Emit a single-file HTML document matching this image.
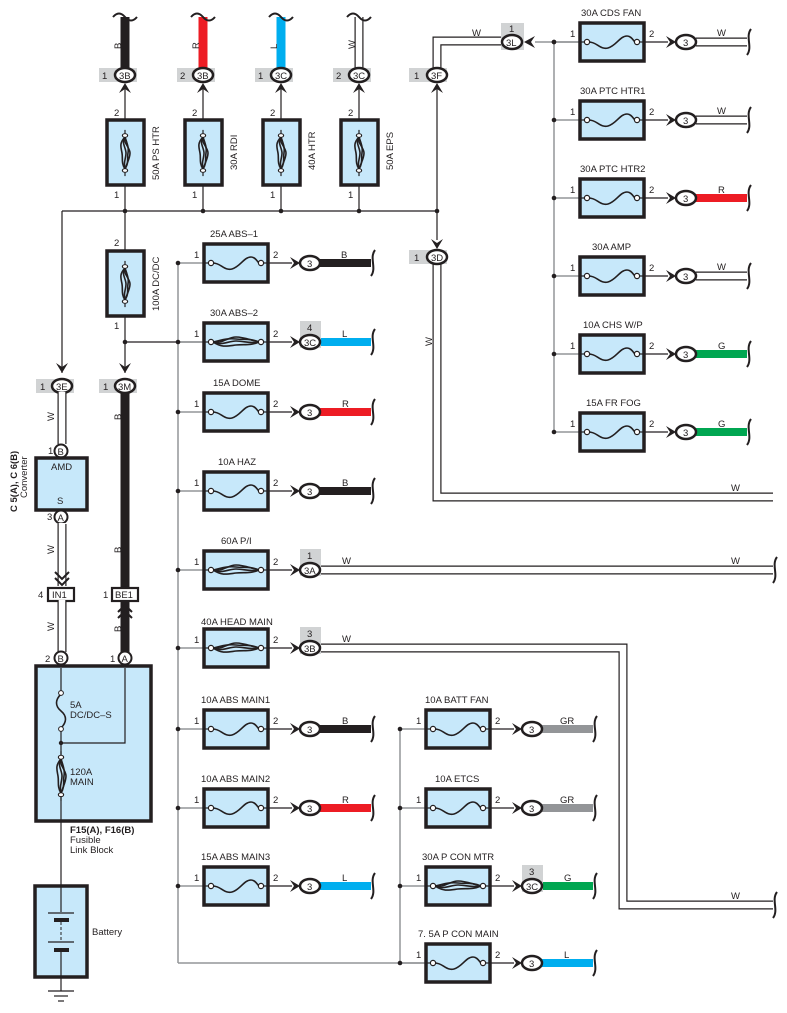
<!DOCTYPE html>
<html><head><meta charset="utf-8"><style>
html,body{margin:0;padding:0;background:#fff}
svg{display:block}
text{font-family:"Liberation Sans",sans-serif;font-size:9.5px;fill:#231f20}
.bx{fill:#c7e8fa;stroke:#231f20;stroke-width:3.5}
.ln{stroke:#231f20;stroke-width:1.2;fill:none}
.gl{stroke:#939598;stroke-width:1.5;fill:none}
.fz{stroke:#231f20;stroke-width:1.6;fill:none}
.el{fill:#fff;stroke:#231f20;stroke-width:2.5}
.gy{fill:#d1d3d4}
.wo{stroke:#231f20;stroke-width:9;fill:none}
.wi{stroke:#fff;stroke-width:6.6;fill:none}
.br{stroke:#231f20;stroke-width:2;fill:none}
</style></head><body>
<svg width="787" height="1013" viewBox="0 0 787 1013" xmlns="http://www.w3.org/2000/svg">
<defs>
<g id="fs">
 <line class="ln" x1="-33" y1="0" x2="-25" y2="0"/><line class="ln" x1="25" y1="0" x2="33" y2="0"/>
 <path class="fz" d="M-23,0 C-15,0 -12,8 -4,6 C4,4 8,-6 15,-6 C19,-6 21,-2 23,0"/>
 <circle cx="-25" cy="0" r="2.6" fill="#fff" stroke="#231f20" stroke-width="1.2"/>
 <circle cx="25" cy="0" r="2.6" fill="#fff" stroke="#231f20" stroke-width="1.2"/>
</g>
<g id="fb">
 <line class="ln" x1="-33" y1="0" x2="-25" y2="0"/><line class="ln" x1="25" y1="0" x2="33" y2="0"/>
 <path class="fz" d="M-23,0 C-14,2 -8,-5 0,-5 C8,-5 14,-2 23,0"/>
 <path class="fz" d="M-23,0 C-14,4 -8,-1 0,-1 C8,-1 14,2 23,0"/>
 <path class="fz" d="M-23,0 C-14,6 -8,4 0,3 C8,2 14,4 23,0"/>
 <path class="fz" d="M-23,0 C-14,-2 -8,-4 0,-3 C8,-2 14,-4 23,0"/>
 <circle cx="-25" cy="0" r="2.6" fill="#fff" stroke="#231f20" stroke-width="1.2"/>
 <circle cx="25" cy="0" r="2.6" fill="#fff" stroke="#231f20" stroke-width="1.2"/>
</g>
<path id="chR" d="M-10,-6 L0,0 L-10,6 L-6,0 Z" fill="#231f20"/>
<g id="row">
 <line class="gl" x1="178" y1="0" x2="203" y2="0"/>
 <circle cx="178" cy="0" r="2.3" fill="#231f20"/>
 <rect class="bx" x="204" y="-19" width="64" height="38"/>
 <line class="ln" x1="269" y1="0" x2="292" y2="0"/>
 <use href="#chR" x="300" y="0"/>
</g>
</defs>

<!-- ===== TOP VERTICAL FUSES ===== -->
<g>
 <!-- 50A PS HTR x=125 -->
 <line x1="125" y1="17" x2="125" y2="68" stroke="#231f20" stroke-width="9"/>
 <!-- 30A RDI x=203 -->
 <line x1="203" y1="17" x2="203" y2="68" stroke="#ed1c24" stroke-width="9"/>
 <!-- 40A HTR x=281 -->
 <line x1="281" y1="17" x2="281" y2="68" stroke="#00aeef" stroke-width="9"/>
 <!-- W x=359 -->
 <line class="wo" x1="359" y1="17" x2="359" y2="68"/><line class="wi" x1="359" y1="16" x2="359" y2="68"/>
 <path class="br" d="M113,17 q6,-7 12,0 t12,0"/>
 <path class="br" d="M191,17 q6,-7 12,0 t12,0"/>
 <path class="br" d="M269,17 q6,-7 12,0 t12,0"/>
 <path class="br" d="M347,17 q6,-7 12,0 t12,0"/>
 <text transform="translate(121,49) rotate(-90)">B</text>
 <text transform="translate(199,49) rotate(-90)">R</text>
 <text transform="translate(277,49) rotate(-90)">L</text>
 <text transform="translate(355,49) rotate(-90)">W</text>

 <rect class="gy" x="99" y="68" width="38" height="14"/>
 <rect class="gy" x="177" y="68" width="38" height="14"/>
 <rect class="gy" x="255" y="68" width="38" height="14"/>
 <rect class="gy" x="333" y="68" width="38" height="14"/>
 <rect class="gy" x="409" y="68" width="38" height="14"/>
 <rect class="gy" x="36" y="379" width="38" height="14"/>
 <rect class="gy" x="99" y="379" width="38" height="14"/>

 <!-- thin lines down -->
 <line class="ln" x1="125" y1="85" x2="125" y2="226"/>
 <line class="ln" x1="203" y1="85" x2="203" y2="211"/>
 <line class="ln" x1="281" y1="85" x2="281" y2="211"/>
 <line class="ln" x1="359" y1="85" x2="359" y2="211"/>
 <line class="ln" x1="437" y1="85" x2="437" y2="240"/>
 <line class="ln" x1="62" y1="211" x2="437" y2="211"/>
 <line class="ln" x1="62" y1="211" x2="62" y2="373"/>
 <line class="ln" x1="125" y1="226" x2="125" y2="373"/>
 <line class="ln" x1="125" y1="342" x2="204" y2="342"/>
 <circle cx="125" cy="211" r="2.3" fill="#231f20"/>
 <circle cx="203" cy="211" r="2.3" fill="#231f20"/>
 <circle cx="281" cy="211" r="2.3" fill="#231f20"/>
 <circle cx="359" cy="211" r="2.3" fill="#231f20"/>
 <circle cx="437" cy="211" r="2.3" fill="#231f20"/>
 <circle cx="125" cy="342" r="2.3" fill="#231f20"/>

 <!-- up chevrons -->
 <path d="M119,93 L125,83 L131,93 L125,89 Z" fill="#231f20"/>
 <path d="M197,93 L203,83 L209,93 L203,89 Z" fill="#231f20"/>
 <path d="M275,93 L281,83 L287,93 L281,89 Z" fill="#231f20"/>
 <path d="M353,93 L359,83 L365,93 L359,89 Z" fill="#231f20"/>
 <path d="M431,93 L437,83 L443,93 L437,89 Z" fill="#231f20"/>
 <!-- down chevrons -->
 <path d="M431,239 L437,249 L443,239 L437,243 Z" fill="#231f20"/>
 <path d="M56,363 L62,373 L68,363 L62,367 Z" fill="#231f20"/>
 <path d="M119,363 L125,373 L131,363 L125,367 Z" fill="#231f20"/>

 <!-- boxes -->
 <rect class="bx" x="107" y="120" width="37" height="65"/>
 <rect class="bx" x="185" y="120" width="37" height="65"/>
 <rect class="bx" x="263" y="120" width="37" height="65"/>
 <rect class="bx" x="341" y="120" width="37" height="65"/>
 <rect class="bx" x="107" y="251" width="37" height="65"/>
 <use href="#fb" transform="translate(125,153) rotate(90) scale(0.7,1)"/>
 <use href="#fb" transform="translate(203,153) rotate(90) scale(0.7,1)"/>
 <use href="#fb" transform="translate(281,153) rotate(90) scale(0.7,1)"/>
 <use href="#fb" transform="translate(359,153) rotate(90) scale(0.7,1)"/>
 <use href="#fb" transform="translate(125,284) rotate(90) scale(0.7,1)"/>

 <text x="114" y="116">2</text><text x="192" y="116">2</text><text x="270" y="116">2</text><text x="348" y="116">2</text>
 <text x="114" y="198">1</text><text x="192" y="198">1</text><text x="270" y="198">1</text><text x="348" y="198">1</text>
 <text x="114" y="246">2</text><text x="114" y="329">1</text>
 <text transform="translate(159,180) rotate(-90)">50A PS HTR</text>
 <text transform="translate(237,170) rotate(-90)">30A RDI</text>
 <text transform="translate(315,170) rotate(-90)">40A HTR</text>
 <text transform="translate(393,170) rotate(-90)">50A EPS</text>
 <text transform="translate(159,311) rotate(-90)">100A DC/DC</text>

 <!-- top connectors -->
 <ellipse class="el" cx="125" cy="75" rx="10" ry="7"/><text x="119" y="79" font-size="9">3B</text><text x="102" y="79">1</text>
 <ellipse class="el" cx="203" cy="75" rx="10" ry="7"/><text x="197" y="79" font-size="9">3B</text><text x="180" y="79">2</text>
 <ellipse class="el" cx="281" cy="75" rx="10" ry="7"/><text x="275" y="79" font-size="9">3C</text><text x="258" y="79">1</text>
 <ellipse class="el" cx="359" cy="75" rx="10" ry="7"/><text x="353" y="79" font-size="9">3C</text><text x="336" y="79">2</text>
</g>

<!-- ===== 3F / 3L ===== -->
<polyline class="wo" points="437,68 437,41 502,41"/><polyline class="wi" points="437,69 437,41 502,41"/>
<ellipse class="el" cx="437" cy="75" rx="10" ry="7"/><text x="431" y="79" font-size="9">3F</text><text x="414" y="79">1</text>
<text x="472" y="36">W</text>
<rect class="gy" x="501" y="23" width="23" height="27"/>
<text x="509" y="32">1</text>
<ellipse class="el" cx="512" cy="42" rx="10" ry="7"/><text x="506" y="46" font-size="9">3L</text>
<path d="M535,36 L524,42 L535,48 L531,42 Z" fill="#231f20"/>
<line class="gl" x1="535" y1="42" x2="579" y2="42"/>
<line class="gl" x1="554" y1="42" x2="554" y2="432"/>
<circle cx="554" cy="42" r="2.3" fill="#231f20"/>

<!-- ===== 3D ===== -->
<rect class="gy" x="409" y="250" width="38" height="14"/>
<polyline class="wo" points="437,264 437,497 773,497"/><polyline class="wi" points="437,263 437,497 773,497"/>
<ellipse class="el" cx="437" cy="257" rx="10" ry="7"/><text x="431" y="261" font-size="9">3D</text><text x="414" y="261">1</text>
<text transform="translate(432,346) rotate(-90)">W</text>
<text x="731" y="491">W</text>

<!-- ===== LEFT: converter etc ===== -->
<ellipse class="el" cx="62" cy="386" rx="10" ry="7"/><text x="56" y="390" font-size="9">3E</text><text x="40" y="390">1</text>
<ellipse class="el" cx="125" cy="386" rx="10" ry="7"/><text x="118" y="390" font-size="9">3M</text><text x="103" y="390">1</text>
<line class="wo" x1="62" y1="393" x2="62" y2="444"/><line class="wi" x1="62" y1="392" x2="62" y2="444"/>
<text transform="translate(54,421) rotate(-90)">W</text>
<circle cx="61" cy="451" r="6.5" fill="#fff" stroke="#231f20" stroke-width="2"/><text x="57.5" y="455" font-size="9">B</text><text x="48" y="454">1</text>
<rect class="bx" x="36" y="458" width="51" height="52" stroke-width="2.2"/>
<text x="51" y="470">AMD</text><text x="57" y="504">S</text>
<circle cx="61" cy="517" r="6.5" fill="#fff" stroke="#231f20" stroke-width="2"/><text x="57.5" y="521" font-size="9">A</text><text x="47" y="520">3</text>
<line class="wo" x1="62" y1="524" x2="62" y2="586"/><line class="wi" x1="62" y1="523" x2="62" y2="586"/>
<text transform="translate(54,554) rotate(-90)">W</text>
<path d="M55,572 L62,579 L69,572 M55,578 L62,585 L69,578" stroke="#231f20" stroke-width="2" fill="none"/>
<text transform="translate(17,512) rotate(-90)" font-weight="bold" font-size="9">C 5(A), C 6(B)</text>
<text transform="translate(27,498) rotate(-90)" font-size="9">Converter</text>
<rect x="48" y="588" width="26" height="13" fill="#fff" stroke="#231f20" stroke-width="2.2"/><text x="52" y="598" font-size="9">IN1</text><text x="38" y="598">4</text>
<line class="wo" x1="62" y1="601" x2="62" y2="652"/><line class="wi" x1="62" y1="600" x2="62" y2="652"/>
<text transform="translate(54,631) rotate(-90)">W</text>
<circle cx="61" cy="658" r="6.5" fill="#fff" stroke="#231f20" stroke-width="2"/><text x="57.5" y="662" font-size="9">B</text><text x="45" y="662">2</text>

<line x1="125" y1="393" x2="125" y2="588" stroke="#231f20" stroke-width="9"/>
<text transform="translate(121,420) rotate(-90)">B</text>
<text transform="translate(121,553) rotate(-90)">B</text>
<rect x="112" y="588" width="26" height="13" fill="#fff" stroke="#231f20" stroke-width="2.2"/><text x="115" y="598" font-size="9">BE1</text><text x="103" y="598">1</text>
<line x1="125" y1="601" x2="125" y2="652" stroke="#231f20" stroke-width="9"/>
<path d="M118,612 L125,605 L132,612 M118,618 L125,611 L132,618" stroke="#231f20" stroke-width="2" fill="none"/>
<text transform="translate(121,632) rotate(-90)">B</text>
<circle cx="125" cy="658" r="6.5" fill="#fff" stroke="#231f20" stroke-width="2"/><text x="121.5" y="662" font-size="9">A</text><text x="110" y="662">1</text>

<rect class="bx" x="36" y="666" width="115" height="155"/>
<polyline class="ln" points="61,668 61,692"/>
<path class="fz" d="M61,694 C55,700 55,706 61,711 C67,716 67,722 61,728"/>
<circle cx="61" cy="693" r="2.4" fill="#fff" stroke="#231f20"/><circle cx="61" cy="729" r="2.4" fill="#fff" stroke="#231f20"/>
<polyline class="ln" points="61,731 61,756"/>
<polyline class="ln" points="61,743 125,743 125,668"/>
<circle cx="61" cy="743" r="2.2" fill="#231f20"/>
<use href="#fb" transform="translate(61,776) rotate(90) scale(0.75,1)"/>
<line class="ln" x1="61" y1="796" x2="61" y2="886"/>
<text x="70" y="708" font-size="9">5A</text><text x="70" y="718" font-size="9">DC/DC–S</text>
<text x="70" y="775" font-size="9">120A</text><text x="70" y="785" font-size="9">MAIN</text>
<text x="70" y="833" font-weight="bold" font-size="9">F15(A), F16(B)</text>
<text x="70" y="843" font-size="9">Fusible</text><text x="70" y="853" font-size="9">Link Block</text>
<rect class="bx" x="35" y="886" width="52" height="91"/>
<line class="ln" x1="61" y1="886" x2="61" y2="912"/>
<line class="ln" x1="48" y1="913" x2="74" y2="913"/>
<rect x="54" y="918" width="15" height="4" fill="#231f20"/>
<line x1="61" y1="922" x2="61" y2="941" stroke="#231f20" stroke-width="1" stroke-dasharray="3,2"/>
<line class="ln" x1="48" y1="942" x2="74" y2="942"/>
<rect x="54" y="948" width="15" height="4" fill="#231f20"/>
<line class="ln" x1="61" y1="952" x2="61" y2="991"/>
<line class="ln" x1="48" y1="991" x2="74" y2="991"/>
<line class="ln" x1="54" y1="996" x2="68" y2="996"/>
<line class="ln" x1="58" y1="1001" x2="64" y2="1001"/>
<text x="92" y="935" font-size="9">Battery</text>

<!-- ===== BUSES ===== -->
<line class="gl" x1="178" y1="263" x2="178" y2="963"/>
<line class="gl" x1="178" y1="963" x2="425" y2="963"/>
<line class="gl" x1="400" y1="729" x2="400" y2="963"/>

<!-- ===== LEFT ROWS ===== -->
<!-- ABS-1 -->
<g transform="translate(0,263)"><use href="#row"/><use href="#fs" x="236"/>
 <line x1="320" y1="0" x2="371" y2="0" stroke="#231f20" stroke-width="8"/>
 <ellipse class="el" cx="310" cy="0" rx="10" ry="7"/><text x="307" y="4" font-size="9">3</text>
 <text x="341" y="-5">B</text><path class="br" d="M375,-13 C369,-5 377,5 371,13"/>
 <text x="210" y="-26">25A ABS–1</text><text x="194" y="-5">1</text><text x="273" y="-5">2</text></g>
<!-- ABS-2 -->
<g transform="translate(0,342)"><use href="#row"/><use href="#fb" x="236"/>
 <line x1="320" y1="0" x2="371" y2="0" stroke="#00aeef" stroke-width="8"/>
 <rect class="gy" x="300" y="-21" width="21" height="27"/>
 <ellipse class="el" cx="310" cy="0" rx="10" ry="7"/><text x="304" y="4" font-size="9">3C</text><text x="307" y="-11">4</text>
 <text x="342" y="-5">L</text><path class="br" d="M375,-13 C369,-5 377,5 371,13"/>
 <text x="210" y="-26">30A ABS–2</text><text x="194" y="-5">1</text><text x="273" y="-5">2</text></g>
<!-- DOME -->
<g transform="translate(0,412)"><use href="#row"/><use href="#fs" x="236"/>
 <line x1="320" y1="0" x2="371" y2="0" stroke="#ed1c24" stroke-width="8"/>
 <ellipse class="el" cx="310" cy="0" rx="10" ry="7"/><text x="307" y="4" font-size="9">3</text>
 <text x="342" y="-5">R</text><path class="br" d="M375,-13 C369,-5 377,5 371,13"/>
 <text x="213" y="-26">15A DOME</text><text x="194" y="-5">1</text><text x="273" y="-5">2</text></g>
<!-- HAZ -->
<g transform="translate(0,491)"><use href="#row"/><use href="#fs" x="236"/>
 <line x1="320" y1="0" x2="371" y2="0" stroke="#231f20" stroke-width="8"/>
 <ellipse class="el" cx="310" cy="0" rx="10" ry="7"/><text x="307" y="4" font-size="9">3</text>
 <text x="342" y="-5">B</text><path class="br" d="M375,-13 C369,-5 377,5 371,13"/>
 <text x="218" y="-26">10A HAZ</text><text x="194" y="-5">1</text><text x="273" y="-5">2</text></g>
<!-- P/I -->
<g transform="translate(0,570)"><use href="#row"/><use href="#fb" x="236"/>
 <line class="wo" x1="320" y1="0" x2="773" y2="0"/><line class="wi" x1="318" y1="0" x2="773" y2="0"/>
 <rect class="gy" x="300" y="-21" width="21" height="27"/>
 <ellipse class="el" cx="310" cy="0" rx="10" ry="7"/><text x="304" y="4" font-size="9">3A</text><text x="307" y="-11">1</text>
 <text x="342" y="-6">W</text><text x="731" y="-6">W</text><path class="br" d="M777,-13 C771,-5 779,5 773,13"/>
 <text x="221" y="-26">60A P/I</text><text x="194" y="-5">1</text><text x="273" y="-5">2</text></g>
<!-- HEAD MAIN -->
<g transform="translate(0,648)"><use href="#row"/><use href="#fb" x="236"/>
 <polyline class="wo" points="320,0 623,0 623,257 773,257"/><polyline class="wi" points="318,0 623,0 623,257 773,257"/>
 <rect class="gy" x="300" y="-21" width="21" height="27"/>
 <ellipse class="el" cx="310" cy="0" rx="10" ry="7"/><text x="304" y="4" font-size="9">3B</text><text x="307" y="-11">3</text>
 <text x="342" y="-6">W</text><text x="731" y="251">W</text><path class="br" d="M777,244 C771,252 779,262 773,270"/>
 <text x="201" y="-23">40A HEAD MAIN</text><text x="194" y="-5">1</text><text x="273" y="-5">2</text></g>
<!-- ABS MAIN1 -->
<g transform="translate(0,729)"><use href="#row"/><use href="#fs" x="236"/>
 <line x1="320" y1="0" x2="371" y2="0" stroke="#231f20" stroke-width="8"/>
 <ellipse class="el" cx="310" cy="0" rx="10" ry="7"/><text x="307" y="4" font-size="9">3</text>
 <text x="342" y="-5">B</text><path class="br" d="M375,-13 C369,-5 377,5 371,13"/>
 <text x="201" y="-26">10A ABS MAIN1</text><text x="194" y="-5">1</text><text x="273" y="-5">2</text></g>
<!-- ABS MAIN2 -->
<g transform="translate(0,808)"><use href="#row"/><use href="#fs" x="236"/>
 <line x1="320" y1="0" x2="371" y2="0" stroke="#ed1c24" stroke-width="8"/>
 <ellipse class="el" cx="310" cy="0" rx="10" ry="7"/><text x="307" y="4" font-size="9">3</text>
 <text x="342" y="-5">R</text><path class="br" d="M375,-13 C369,-5 377,5 371,13"/>
 <text x="201" y="-26">10A ABS MAIN2</text><text x="194" y="-5">1</text><text x="273" y="-5">2</text></g>
<!-- ABS MAIN3 -->
<g transform="translate(0,886)"><use href="#row"/><use href="#fs" x="236"/>
 <line x1="320" y1="0" x2="371" y2="0" stroke="#00aeef" stroke-width="8"/>
 <ellipse class="el" cx="310" cy="0" rx="10" ry="7"/><text x="307" y="4" font-size="9">3</text>
 <text x="342" y="-5">L</text><path class="br" d="M375,-13 C369,-5 377,5 371,13"/>
 <text x="201" y="-26">15A ABS MAIN3</text><text x="194" y="-5">1</text><text x="273" y="-5">2</text></g>

<!-- ===== SECOND COLUMN ===== -->
<g transform="translate(222,729)"><use href="#row"/><use href="#fs" x="236"/>
 <line x1="320" y1="0" x2="371" y2="0" stroke="#939598" stroke-width="8"/>
 <ellipse class="el" cx="310" cy="0" rx="10" ry="7"/><text x="307" y="4" font-size="9">3</text>
 <text x="338" y="-5">GR</text><path class="br" d="M375,-13 C369,-5 377,5 371,13"/>
 <text x="203" y="-26">10A BATT FAN</text><text x="194" y="-5">1</text><text x="273" y="-5">2</text></g>
<g transform="translate(222,808)"><use href="#row"/><use href="#fs" x="236"/>
 <line x1="320" y1="0" x2="371" y2="0" stroke="#939598" stroke-width="8"/>
 <ellipse class="el" cx="310" cy="0" rx="10" ry="7"/><text x="307" y="4" font-size="9">3</text>
 <text x="338" y="-5">GR</text><path class="br" d="M375,-13 C369,-5 377,5 371,13"/>
 <text x="213" y="-26">10A ETCS</text><text x="194" y="-5">1</text><text x="273" y="-5">2</text></g>
<g transform="translate(222,886)"><use href="#row"/><use href="#fb" x="236"/>
 <line x1="320" y1="0" x2="371" y2="0" stroke="#00a651" stroke-width="8"/>
 <rect class="gy" x="300" y="-21" width="21" height="27"/>
 <ellipse class="el" cx="310" cy="0" rx="10" ry="7"/><text x="304" y="4" font-size="9">3C</text><text x="307" y="-11">3</text>
 <text x="342" y="-5">G</text><path class="br" d="M375,-13 C369,-5 377,5 371,13"/>
 <text x="200" y="-26">30A P CON MTR</text><text x="194" y="-5">1</text><text x="273" y="-5">2</text></g>
<g transform="translate(222,963)"><use href="#row"/><use href="#fs" x="236"/>
 <line x1="320" y1="0" x2="371" y2="0" stroke="#00aeef" stroke-width="8"/>
 <ellipse class="el" cx="310" cy="0" rx="10" ry="7"/><text x="307" y="4" font-size="9">3</text>
 <text x="342" y="-5">L</text><path class="br" d="M375,-13 C369,-5 377,5 371,13"/>
 <text x="196" y="-26">7. 5A P CON MAIN</text><text x="194" y="-5">1</text><text x="273" y="-5">2</text></g>

<!-- ===== RIGHT COLUMN ===== -->
<g transform="translate(376,42)"><use href="#row"/><use href="#fs" x="236"/>
 <line class="wo" x1="320" y1="0" x2="371" y2="0"/><line class="wi" x1="318" y1="0" x2="371" y2="0"/>
 <ellipse class="el" cx="310" cy="0" rx="10" ry="7"/><text x="307" y="4" font-size="9">3</text>
 <text x="341" y="-6">W</text><path class="br" d="M375,-13 C369,-5 377,5 371,13"/>
 <text x="205" y="-26">30A CDS FAN</text><text x="194" y="-5">1</text><text x="273" y="-5">2</text></g>
<g transform="translate(376,120)"><use href="#row"/><use href="#fs" x="236"/>
 <line class="wo" x1="320" y1="0" x2="371" y2="0"/><line class="wi" x1="318" y1="0" x2="371" y2="0"/>
 <ellipse class="el" cx="310" cy="0" rx="10" ry="7"/><text x="307" y="4" font-size="9">3</text>
 <text x="341" y="-6">W</text><path class="br" d="M375,-13 C369,-5 377,5 371,13"/>
 <text x="204" y="-26">30A PTC HTR1</text><text x="194" y="-5">1</text><text x="273" y="-5">2</text></g>
<g transform="translate(376,198)"><use href="#row"/><use href="#fs" x="236"/>
 <line x1="320" y1="0" x2="371" y2="0" stroke="#ed1c24" stroke-width="8"/>
 <ellipse class="el" cx="310" cy="0" rx="10" ry="7"/><text x="307" y="4" font-size="9">3</text>
 <text x="342" y="-5">R</text><path class="br" d="M375,-13 C369,-5 377,5 371,13"/>
 <text x="204" y="-26">30A PTC HTR2</text><text x="194" y="-5">1</text><text x="273" y="-5">2</text></g>
<g transform="translate(376,276)"><use href="#row"/><use href="#fs" x="236"/>
 <line class="wo" x1="320" y1="0" x2="371" y2="0"/><line class="wi" x1="318" y1="0" x2="371" y2="0"/>
 <ellipse class="el" cx="310" cy="0" rx="10" ry="7"/><text x="307" y="4" font-size="9">3</text>
 <text x="341" y="-6">W</text><path class="br" d="M375,-13 C369,-5 377,5 371,13"/>
 <text x="216" y="-26">30A AMP</text><text x="194" y="-5">1</text><text x="273" y="-5">2</text></g>
<g transform="translate(376,354)"><use href="#row"/><use href="#fs" x="236"/>
 <line x1="320" y1="0" x2="371" y2="0" stroke="#00a651" stroke-width="8"/>
 <ellipse class="el" cx="310" cy="0" rx="10" ry="7"/><text x="307" y="4" font-size="9">3</text>
 <text x="342" y="-5">G</text><path class="br" d="M375,-13 C369,-5 377,5 371,13"/>
 <text x="207" y="-26">10A CHS W/P</text><text x="194" y="-5">1</text><text x="273" y="-5">2</text></g>
<g transform="translate(376,432)"><use href="#row"/><use href="#fs" x="236"/>
 <line x1="320" y1="0" x2="371" y2="0" stroke="#00a651" stroke-width="8"/>
 <ellipse class="el" cx="310" cy="0" rx="10" ry="7"/><text x="307" y="4" font-size="9">3</text>
 <text x="342" y="-5">G</text><path class="br" d="M375,-13 C369,-5 377,5 371,13"/>
 <text x="210" y="-26">15A FR FOG</text><text x="194" y="-5">1</text><text x="273" y="-5">2</text></g>
</svg>
</body></html>
